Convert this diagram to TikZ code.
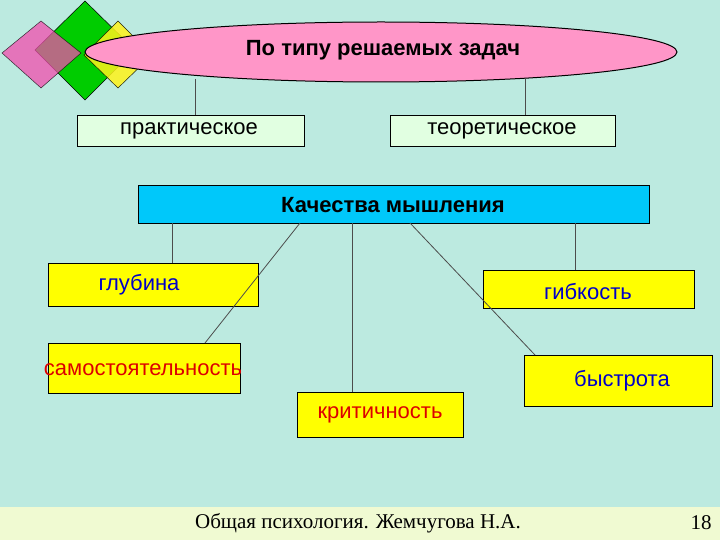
\documentclass[tikz,border=0pt]{standalone}
\usepackage{fontspec}
\setmainfont{Liberation Sans}
\newfontfamily\serifff{Liberation Serif}
\usetikzlibrary{shapes.geometric}
\definecolor{bg}{RGB}{188,234,224}
\definecolor{foot}{RGB}{240,250,210}
\definecolor{pinkf}{RGB}{255,150,200}
\definecolor{pale}{RGB}{225,255,225}
\definecolor{cyanf}{RGB}{0,200,250}
\definecolor{yel}{RGB}{255,255,0}
\definecolor{tblue}{RGB}{0,0,200}
\definecolor{tred}{RGB}{220,0,0}
\begin{document}
\begin{tikzpicture}[x=1pt,y=-1pt,
  box/.style={draw=black,line width=0.8pt,anchor=north west,inner sep=0pt},
  lbl/.style={font=\fontsize{22}{26}\selectfont},
  ln/.style={draw=black!70,line width=0.8pt}]
\useasboundingbox (0,0) rectangle (720,540);
\fill[bg] (0,0) rectangle (720,507);
\fill[foot] (0,507) rectangle (720,540);
% diamonds
\fill[green!80!black,draw=black,line width=0.5pt] (85,1) -- (135,50) -- (85,100) -- (35,50) -- cycle;
\fill[yellow!90!white,draw=black,line width=0.5pt,opacity=0.85] (118,21) -- (152,55) -- (118,88) -- (84,55) -- cycle;
\fill[magenta!70!white,draw=black,line width=0.5pt,opacity=0.75] (41,21) -- (81,53) -- (41,88) -- (2,53) -- cycle;
% ellipse
\node[ellipse,draw=black,line width=1pt,fill=pinkf,minimum width=592,minimum height=60,inner sep=0pt] (top) at (381,52) {};
\node[lbl,font=\bfseries\fontsize{22}{26}\selectfont] (toptxt) at (383,50) {По типу решаемых задач};
% level 2
\node[box,fill=pale,minimum width=227,minimum height=31] (pr) at (77,115) {};
\node[lbl] at (189,131) {практическое};
\node[box,fill=pale,minimum width=225,minimum height=31] (te) at (390,115) {};
\node[lbl] at (502,131) {теоретическое};
\coordinate (c1) at (195,79); \coordinate (c2) at (525,79);
\draw[ln] (c1) -- (c1 |- pr.north);
\draw[ln] (c2) -- (c2 |- te.north);
% qualities
\node[box,fill=cyanf,minimum width=511,minimum height=38] (q) at (138,185) {};
\node[lbl,font=\bfseries\fontsize{22}{26}\selectfont] at (393,205) {Качества мышления};
\node[box,fill=yel,minimum width=210,minimum height=43] (g1) at (48,263) {};
\node[lbl,text=tblue] at (139,285) {глубина};
\node[box,fill=yel,minimum width=211,minimum height=38] (g2) at (483,270) {};
\node[lbl,text=tblue] at (588,292) {гибкость};
\node[box,fill=yel,minimum width=192,minimum height=50] (s) at (48,343) {};
\node[lbl,text=tred] at (143,370) {самостоятельность};
\node[box,fill=yel,minimum width=188,minimum height=51] (b) at (524,355) {};
\node[lbl,text=tblue] at (622,381) {быстрота};
\node[box,fill=yel,minimum width=166,minimum height=45] (k) at (297,392) {};
\node[lbl,text=tred] at (380,415) {критичность};
\coordinate (q1) at (172,223); \coordinate (q2) at (575,223);
\coordinate (q3) at (300,223); \coordinate (q4) at (352,223); \coordinate (q5) at (410,223);
\coordinate (e3) at (205,343); \coordinate (e5) at (535,355);
\draw[ln] (q1) -- (q1 |- g1.north);
\draw[ln] (q2) -- (q2 |- g2.north);
\draw[ln] (q3) -- (e3);
\draw[ln] (q4) -- (q4 |- k.north);
\draw[ln] (q5) -- (e5);
% footer
\node[font=\serifff\fontsize{21}{24}\selectfont] (f) at (358,523) {Общая психология. Жемчугова Н.А.};
\node[font=\serifff\fontsize{21}{24}\selectfont] (n) at (701,523) {18};
\end{tikzpicture}
\end{document}
